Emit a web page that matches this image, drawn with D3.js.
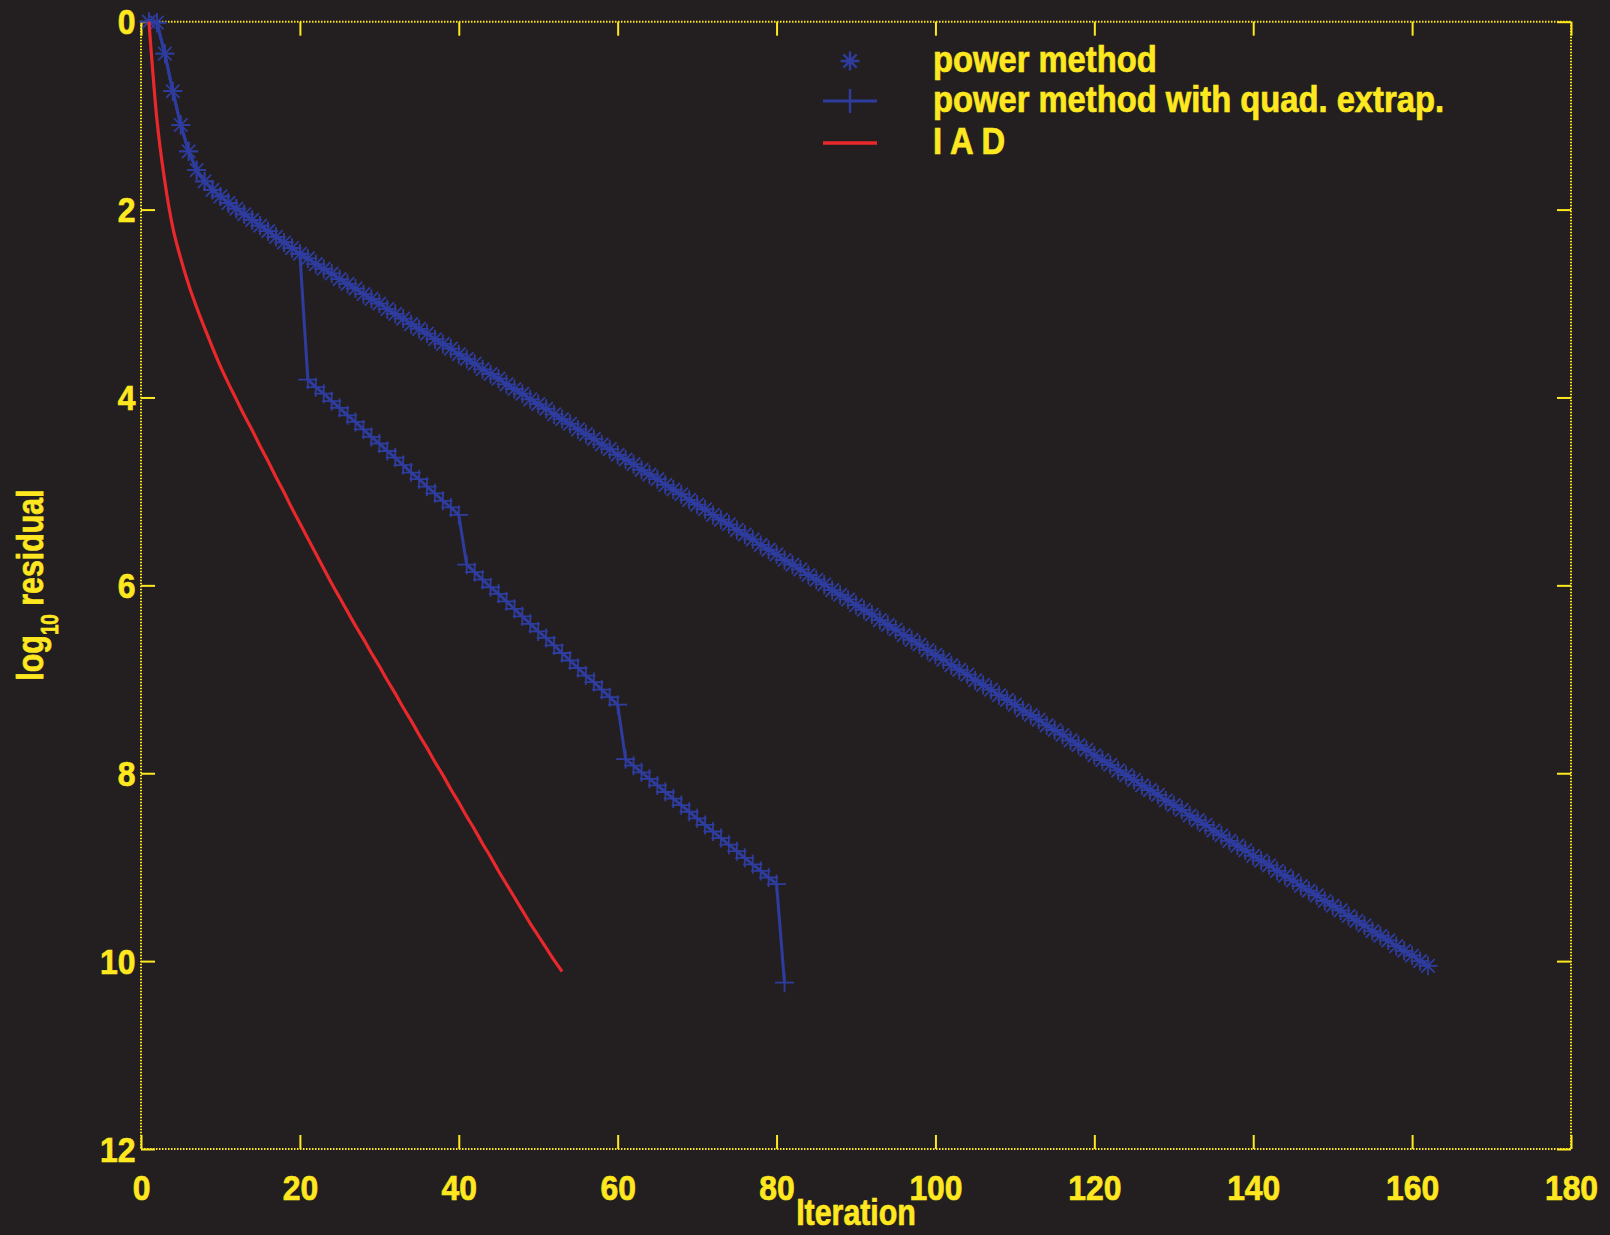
<!DOCTYPE html>
<html>
<head>
<meta charset="utf-8">
<script src="https://cdn.jsdelivr.net/npm/d3@7"></script>
<style>
  body { margin: 0; background: #231f20; }
  svg { display: block; }
  text { font-family: "Liberation Sans", Arial, Helvetica, sans-serif; font-weight: bold; fill: #ffe81f; stroke: #ffe81f; stroke-width: 0.7px; }
</style>
</head>
<body>
<svg id="chart"></svg>
<script>
// tick labels
var xTicks = [0, 20, 40, 60, 80, 100, 120, 140, 160, 180];
var yTicks = [0, 2, 4, 6, 8, 10, 12];

var seriesNames = ["power method", "power method with quad. extrap.", "I A D"];

// log10 residual per iteration (iteration = index + 1)
var powerMethod = [
  0.00, 0.01, 0.34, 0.74, 1.10, 1.38, 1.58, 1.70, 1.79, 1.86,
  1.93, 1.99, 2.05, 2.11, 2.17, 2.23, 2.29, 2.35, 2.41, 2.47,
  2.52, 2.58, 2.63, 2.68, 2.74, 2.79, 2.84, 2.90, 2.95, 3.00,
  3.06, 3.11, 3.16, 3.22, 3.27, 3.32, 3.38, 3.43, 3.48, 3.54,
  3.59, 3.64, 3.70, 3.75, 3.80, 3.86, 3.91, 3.96, 4.02, 4.07,
  4.12, 4.18, 4.23, 4.28, 4.34, 4.39, 4.44, 4.50, 4.55, 4.61,
  4.66, 4.71, 4.77, 4.82, 4.87, 4.93, 4.98, 5.03, 5.09, 5.14,
  5.19, 5.25, 5.30, 5.35, 5.41, 5.46, 5.51, 5.57, 5.62, 5.67,
  5.73, 5.78, 5.83, 5.89, 5.94, 5.99, 6.05, 6.10, 6.15, 6.21,
  6.26, 6.31, 6.37, 6.42, 6.47, 6.53, 6.58, 6.63, 6.69, 6.74,
  6.79, 6.85, 6.90, 6.95, 7.01, 7.06, 7.11, 7.17, 7.22, 7.27,
  7.33, 7.38, 7.43, 7.49, 7.54, 7.59, 7.65, 7.70, 7.75, 7.81,
  7.86, 7.91, 7.97, 8.02, 8.07, 8.13, 8.18, 8.23, 8.29, 8.34,
  8.39, 8.45, 8.50, 8.55, 8.61, 8.66, 8.72, 8.77, 8.82, 8.88,
  8.93, 8.98, 9.04, 9.09, 9.14, 9.20, 9.25, 9.30, 9.36, 9.41,
  9.46, 9.52, 9.57, 9.62, 9.68, 9.73, 9.78, 9.84, 9.89, 9.94,
  10.00, 10.05
];

var quadExtrap = [
  0.00, 0.01, 0.34, 0.74, 1.10, 1.38, 1.58, 1.70, 1.79, 1.86,
  1.93, 1.99, 2.05, 2.11, 2.17, 2.23, 2.29, 2.35, 2.41, 2.47,
  3.81, 3.89, 3.96, 4.04, 4.11, 4.19, 4.26, 4.34, 4.42, 4.49,
  4.57, 4.64, 4.72, 4.80, 4.87, 4.95, 5.02, 5.10, 5.17, 5.25,
  5.78, 5.86, 5.94, 6.02, 6.09, 6.17, 6.25, 6.33, 6.41, 6.49,
  6.56, 6.64, 6.72, 6.80, 6.88, 6.96, 7.03, 7.11, 7.19, 7.27,
  7.85, 7.92, 7.99, 8.06, 8.13, 8.20, 8.27, 8.34, 8.41, 8.48,
  8.55, 8.62, 8.69, 8.76, 8.83, 8.90, 8.97, 9.04, 9.11, 9.18,
  10.23
];

var iad = [
  0.00, 1.04, 1.70, 2.19, 2.52, 2.80, 3.04, 3.26, 3.47, 3.67,
  3.85, 4.02, 4.19, 4.35, 4.52, 4.68, 4.85, 5.01, 5.18, 5.34,
  5.50, 5.66, 5.82, 5.98, 6.13, 6.28, 6.43, 6.57, 6.72, 6.86,
  7.01, 7.15, 7.30, 7.44, 7.59, 7.73, 7.88, 8.02, 8.17, 8.31,
  8.46, 8.60, 8.75, 8.89, 9.04, 9.18, 9.32, 9.46, 9.60, 9.73,
  9.86, 9.99, 10.11
];

var yellow = "#ffe81f";
var blue = "#2e3c9e";
var red = "#e8282b";

var width = 1610;
var height = 1235;

var svg = d3.select("#chart")
            .attr("width", width)
            .attr("height", height);

svg.append("rect")
    .attr("width", width)
    .attr("height", height)
    .attr("fill", "#231f20");

var x = d3.scaleLinear()
          .domain([0, 180])
          .range([141, 1571]);

var y = d3.scaleLinear()
          .domain([0, 12])
          .range([21.7, 1149]);

// squeezed helvetica-like text
function addText(str, px, py, size, sx, anchor, rot) {
  return svg.append("text")
      .attr("transform", "translate(" + px + "," + py + ")" + (rot ? " rotate(" + rot + ")" : "") + " scale(" + sx + ",1)")
      .attr("font-size", size)
      .style("text-anchor", anchor)
      .text(str);
}

// dotted box
var box = [
  [x(0), y(0), x(180), y(0)],
  [x(0), y(12), x(180), y(12)],
  [x(0), y(0), x(0), y(12)],
  [x(180), y(0), x(180), y(12)]
];
svg.selectAll(".box")
  .data(box)
  .enter()
  .append("line")
    .classed("box", true)
    .attr("x1", d => d[0])
    .attr("y1", d => d[1])
    .attr("x2", d => d[2])
    .attr("y2", d => d[3])
    .attr("stroke", yellow)
    .attr("stroke-width", 2)
    .attr("stroke-dasharray", "1.5,1.5");

function styleAxis(g) {
  g.select(".domain").remove();
  g.selectAll(".tick line")
    .attr("stroke", yellow)
    .attr("stroke-width", 2);
}

// axes, ticks pointing inwards
svg.append("g")
    .attr("transform", "translate(0," + y(12) + ")")
    .call(d3.axisBottom(x).tickValues(xTicks).tickSizeInner(-14).tickSizeOuter(0))
    .call(styleAxis)
  .selectAll("text")
    .attr("y", 51)
    .attr("dy", null)
    .attr("font-size", 35)
    .attr("transform", "scale(0.91,1)");

svg.append("g")
    .attr("transform", "translate(0," + y(0) + ")")
    .call(d3.axisTop(x).tickValues(xTicks).tickSizeInner(-14).tickSizeOuter(0).tickFormat(""))
    .call(styleAxis);

svg.append("g")
    .attr("transform", "translate(" + x(0) + ",0)")
    .call(d3.axisLeft(y).tickValues(yTicks).tickSizeInner(-14).tickSizeOuter(0).tickPadding(6))
    .call(styleAxis)
  .selectAll("text")
    .attr("font-size", 35)
    .attr("dy", "0.35em")
    .attr("transform", "scale(0.91,1)");

svg.append("g")
    .attr("transform", "translate(" + x(180) + ",0)")
    .call(d3.axisRight(y).tickValues(yTicks).tickSizeInner(-14).tickSizeOuter(0).tickFormat(""))
    .call(styleAxis);

// markers
var starPath = "M-9.5,0H9.5M0,-9.5V9.5M-6.7,-6.7L6.7,6.7M-6.7,6.7L6.7,-6.7";
var plusPath = "M-9.5,0H9.5M0,-9.5V9.5";

var line = d3.line()
             .x((d, i) => x(i + 1))
             .y(d => y(d));

// power method
svg.append("path")
    .attr("d", line(powerMethod))
    .attr("fill", "none")
    .attr("stroke", blue)
    .attr("stroke-width", 3);

svg.selectAll(".star")
  .data(powerMethod)
  .enter()
  .append("path")
    .classed("star", true)
    .attr("transform", (d, i) => "translate(" + x(i + 1) + "," + y(d) + ")")
    .attr("d", starPath)
    .attr("fill", "none")
    .attr("stroke", blue)
    .attr("stroke-width", 1.8);

// power method with quadratic extrapolation
svg.append("path")
    .attr("d", line(quadExtrap))
    .attr("fill", "none")
    .attr("stroke", blue)
    .attr("stroke-width", 3);

svg.selectAll(".plus")
  .data(quadExtrap)
  .enter()
  .append("path")
    .classed("plus", true)
    .attr("transform", (d, i) => "translate(" + x(i + 1) + "," + y(d) + ")")
    .attr("d", plusPath)
    .attr("fill", "none")
    .attr("stroke", blue)
    .attr("stroke-width", 1.8);

// IAD
svg.append("path")
    .attr("d", line.curve(d3.curveMonotoneX)(iad))
    .attr("fill", "none")
    .attr("stroke", red)
    .attr("stroke-width", 3.2);

// legend
var legendX = 823;
var legendTextX = 933;
var rowY = [61, 101, 143];

svg.append("path")
    .attr("transform", "translate(" + (legendX + 27) + "," + rowY[0] + ")")
    .attr("d", starPath)
    .attr("fill", "none")
    .attr("stroke", blue)
    .attr("stroke-width", 2.4);

svg.append("line")
    .attr("x1", legendX).attr("x2", legendX + 54)
    .attr("y1", rowY[1]).attr("y2", rowY[1])
    .attr("stroke", blue)
    .attr("stroke-width", 3);
svg.append("line")
    .attr("x1", legendX + 27).attr("x2", legendX + 27)
    .attr("y1", rowY[1] - 12).attr("y2", rowY[1] + 12)
    .attr("stroke", blue)
    .attr("stroke-width", 2.4);

svg.append("line")
    .attr("x1", legendX).attr("x2", legendX + 54)
    .attr("y1", rowY[2]).attr("y2", rowY[2])
    .attr("stroke", red)
    .attr("stroke-width", 3.4);

seriesNames.forEach(function(name, i) {
  addText(name, legendTextX, rowY[i] + 11, 37, 0.885, "start");
});

// axis titles
addText("Iteration", 856, 1225, 37, 0.82, "middle");

var yLabel = addText("", 43, 585, 37, 0.82, "middle", -90);
yLabel.append("tspan").text("log");
yLabel.append("tspan").attr("font-size", 23).attr("dy", 15).text("10");
yLabel.append("tspan").attr("dy", -15).text(" residual");
</script>
</body>
</html>
